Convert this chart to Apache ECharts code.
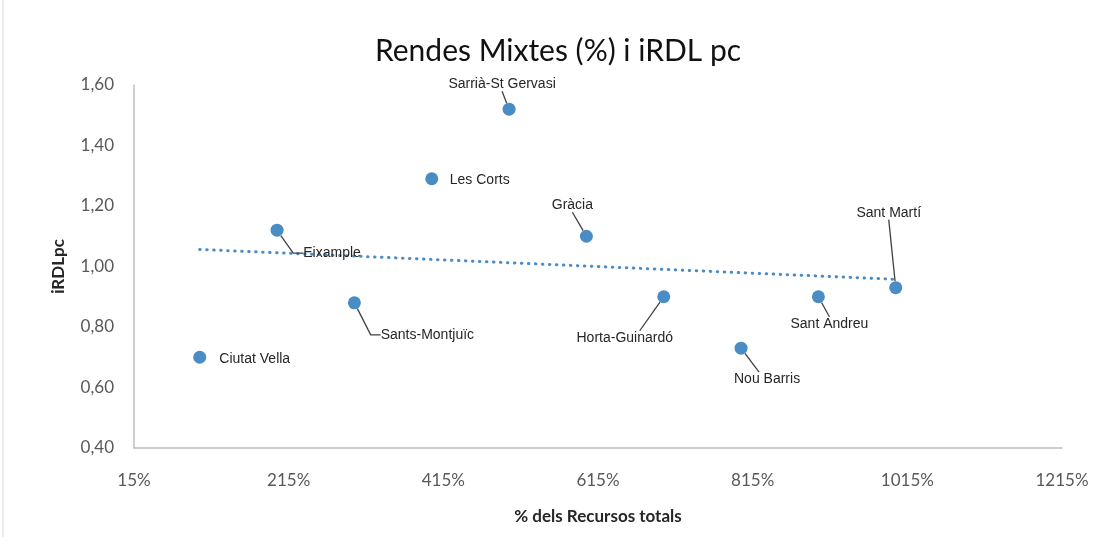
<!DOCTYPE html>
<html>
<head>
<meta charset="utf-8">
<script src="https://cdn.jsdelivr.net/npm/echarts@6/dist/echarts.min.js"></script>
<style>
  html, body { margin: 0; padding: 0; background: #fff; }
  #chart { width: 1100px; height: 537px; }
</style>
</head>
<body>
<div id="chart"></div>
<script>
// districts, % of total resources and iRDL per capita
const districts = ['Ciutat Vella', 'Eixample', 'Sants-Montjuïc', 'Les Corts', 'Sarrià-St Gervasi',
  'Gràcia', 'Horta-Guinardó', 'Nou Barris', 'Sant Andreu', 'Sant Martí'];
const recursos = [100, 200, 300, 400, 500, 600, 700, 800, 900, 1000];
const irdl = [0.70, 1.12, 0.88, 1.29, 1.52, 1.10, 0.90, 0.73, 0.90, 0.93];
const noLeader = ['Ciutat Vella', 'Les Corts'];
const elbowLeader = ['Eixample', 'Sants-Montjuïc'];

// label box centre offsets from the point, in pixels, and invisible padding
// used to steer where the leader line attaches
const labelOffsets = [
  [55, 2], [55, 23], [73, 32], [48, 1], [-7, -25],
  [-14, -31], [-24, 41], [18, 31], [11, 27], [-7, -75]
];
const labelPadding = {
  'Horta-Guinardó': [0, 30, 0, 0],
  'Nou Barris': [0, 0, 0, 16]
};

const blue = '#4a8cc4';

// linear trend line (least squares) over the data range
const trend = (() => {
  const n = recursos.length;
  const mx = recursos.reduce((a, b) => a + b, 0) / n;
  const my = irdl.reduce((a, b) => a + b, 0) / n;
  let sxy = 0, sxx = 0;
  for (let i = 0; i < n; i++) {
    sxy += (recursos[i] - mx) * (irdl[i] - my);
    sxx += (recursos[i] - mx) * (recursos[i] - mx);
  }
  const b = sxy / sxx;
  const a = my - b * mx;
  const x0 = Math.min(...recursos), x1 = Math.max(...recursos);
  return [[x0, a + b * x0], [x1, a + b * x1]];
})();

const scatterData = districts.map((d, i) => {
  const item = { name: d, value: [recursos[i], irdl[i]] };
  if (noLeader.includes(d)) item.labelLine = { show: false };
  if (elbowLeader.includes(d)) item.labelLine = { length2: 10 };
  if (labelPadding[d]) {
    item.label = { padding: labelPadding[d], backgroundColor: 'rgba(255,255,255,0)' };
  }
  return item;
});

const chart = echarts.init(document.getElementById('chart'));
chart.setOption({
  animation: false,
  title: {
    text: 'Rendes Mixtes (%) i iRDL pc',
    left: 553,
    textAlign: 'center',
    top: 31,
    textStyle: { fontFamily: 'Lato', fontWeight: 'normal', fontSize: 30, color: '#111' }
  },
  grid: { left: 134, right: 38, top: 85, bottom: 89 },
  xAxis: {
    type: 'value',
    min: 15, max: 1215, interval: 200,
    name: '% dels Recursos totals',
    nameLocation: 'middle',
    nameGap: 60,
    nameTextStyle: { fontFamily: 'Lato', fontWeight: 'bold', fontSize: 17, color: '#262626' },
    axisLine: { show: true, lineStyle: { color: '#bfbfbf', width: 1.5 } },
    axisTick: { show: false },
    splitLine: { show: false },
    axisLabel: {
      margin: 24, fontFamily: 'Lato', fontSize: 17, color: '#595959',
      formatter: v => Math.round(v) + '%'
    }
  },
  yAxis: {
    type: 'value',
    min: 0.4, max: 1.6, interval: 0.2,
    name: 'iRDLpc',
    nameLocation: 'middle',
    nameGap: 67,
    nameTextStyle: { fontFamily: 'Lato', fontWeight: 'bold', fontSize: 17, color: '#262626' },
    axisLine: { show: true, lineStyle: { color: '#bfbfbf', width: 1.5 } },
    axisTick: { show: false },
    splitLine: { show: false },
    axisLabel: {
      margin: 20, fontFamily: 'Lato', fontSize: 17, color: '#595959',
      formatter: v => v.toFixed(2).replace('.', ',')
    }
  },
  graphic: [{
    type: 'line', shape: { x1: 3, y1: 0, x2: 3, y2: 537 },
    style: { stroke: '#d9d9d9', lineWidth: 1 }
  }],
  series: [
    {
      type: 'line',
      data: trend,
      symbol: 'none',
      silent: true,
      z: 1,
      lineStyle: { color: blue, width: 3, type: [0.5, 6.5], cap: 'round' }
    },
    {
      type: 'scatter',
      data: scatterData,
      symbolSize: 13,
      z: 3,
      itemStyle: { color: blue, opacity: 1 },
      label: {
        show: true,
        position: 'right',
        formatter: p => p.name,
        fontFamily: 'Liberation Sans, Arial',
        fontSize: 14,
        color: '#262626'
      },
      labelLine: {
        show: true,
        length2: 0,
        lineStyle: { color: '#404040', width: 1.3 }
      },
      labelLayout: function (p) {
        const o = labelOffsets[p.dataIndex];
        return {
          x: p.rect.x + p.rect.width / 2 + o[0],
          y: p.rect.y + p.rect.height / 2 + o[1],
          align: 'center',
          verticalAlign: 'middle'
        };
      }
    }
  ]
});
</script>
</body>
</html>
